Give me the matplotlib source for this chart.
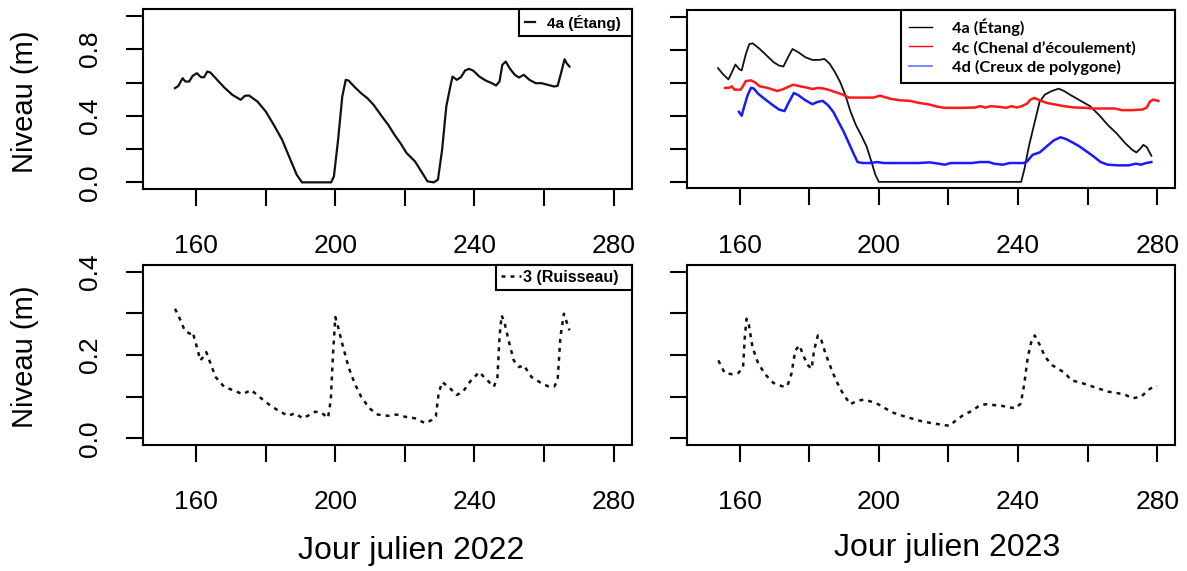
'''
Niveau d'eau des stations, 2022 et 2023
'''
import numpy as np
import matplotlib.pyplot as plt
from matplotlib import font_manager
from matplotlib.lines import Line2D

# station 4a (Etang), 2022
jour_4a_2022 = [153.9, 154.9, 156.1, 156.9, 158.0, 159.0, 160.2, 161.4, 162.3, 163.2,
                164.1, 165.6, 168.0, 170.4, 172.8, 174.0, 175.2, 177.6, 180.0, 182.3,
                184.7, 187.1, 188.9, 190.4, 198.8, 199.6, 200.8, 202.0, 203.0, 203.8,
                205.6, 207.4, 209.2, 211.0, 213.4, 215.2, 217.0, 218.7, 220.5, 222.9,
                224.7, 226.5, 228.3, 229.5, 230.7, 231.9, 233.1, 233.7, 234.9, 236.1,
                237.3, 238.4, 239.6, 241.4, 243.2, 245.0, 246.2, 247.2, 248.0, 249.0,
                250.1, 251.6, 252.8, 254.2, 255.8, 257.6, 259.3, 261.1, 262.9, 263.9,
                265.0, 265.9, 266.5, 267.3]
niv_4a_2022 = [0.566, 0.580, 0.626, 0.606, 0.606, 0.640, 0.656, 0.632, 0.632, 0.666,
               0.660, 0.626, 0.572, 0.526, 0.496, 0.520, 0.522, 0.486, 0.426, 0.346,
               0.256, 0.136, 0.046, 0.000, 0.000, 0.036, 0.256, 0.516, 0.616, 0.612,
               0.572, 0.536, 0.506, 0.466, 0.396, 0.346, 0.286, 0.236, 0.176, 0.126,
               0.066, 0.006, 0.000, 0.016, 0.196, 0.456, 0.580, 0.636, 0.616, 0.632,
               0.672, 0.682, 0.672, 0.636, 0.612, 0.596, 0.582, 0.606, 0.706, 0.726,
               0.686, 0.646, 0.630, 0.646, 0.616, 0.596, 0.596, 0.586, 0.576, 0.580,
               0.666, 0.740, 0.716, 0.696]

# station 4a (Etang), 2023
jour_4a_2023 = [153.8, 155.3, 156.8, 157.8, 158.8, 159.8, 160.6, 161.8, 162.8, 163.8,
                165.8, 167.8, 169.8, 171.3, 172.6, 173.9, 175.2, 176.9, 178.9, 180.9,
                182.9, 184.4, 185.9, 187.4, 188.9, 190.4, 191.9, 193.4, 194.9, 196.5,
                198.0, 199.0, 200.0, 240.9, 241.9, 243.1, 244.7, 246.2, 247.7, 249.7,
                251.7, 253.2, 255.2, 257.7, 260.7, 263.3, 265.8, 268.3, 270.8, 272.8,
                274.0, 275.0, 276.0, 277.0, 278.3]
niv_4a_2023 = [0.688, 0.650, 0.620, 0.664, 0.710, 0.684, 0.674, 0.774, 0.834, 0.838,
               0.804, 0.764, 0.724, 0.704, 0.698, 0.754, 0.804, 0.784, 0.754, 0.738,
               0.738, 0.744, 0.714, 0.664, 0.604, 0.524, 0.424, 0.344, 0.284, 0.214,
               0.114, 0.044, 0.000, 0.000, 0.084, 0.214, 0.354, 0.484, 0.528, 0.550,
               0.564, 0.550, 0.524, 0.494, 0.458, 0.404, 0.344, 0.294, 0.234, 0.194,
               0.178, 0.198, 0.224, 0.210, 0.158]

# station 4c (Chenal d'ecoulement), 2023
jour_4c_2023 = [155.8, 157.1, 157.8, 158.5, 160.3, 161.1, 161.8, 163.3, 164.3, 165.8,
                167.8, 169.3, 170.8, 172.4, 173.9, 175.4, 177.4, 179.4, 180.9, 182.4,
                183.9, 185.4, 187.4, 189.4, 191.4, 193.4, 196.5, 198.5, 200.3, 201.5,
                203.5, 206.0, 209.0, 211.5, 214.5, 217.0, 219.0, 221.6, 224.6, 227.6,
                229.1, 230.6, 232.1, 234.6, 236.6, 238.1, 239.6, 241.1, 242.6, 243.6,
                244.7, 246.2, 248.2, 250.7, 253.2, 256.2, 259.2, 261.7, 264.7, 267.8,
                269.8, 272.8, 275.8, 277.0, 277.8, 278.8, 280.3]
niv_4c_2023 = [0.568, 0.570, 0.578, 0.558, 0.558, 0.584, 0.610, 0.614, 0.604, 0.578,
               0.570, 0.560, 0.550, 0.560, 0.574, 0.588, 0.578, 0.570, 0.562, 0.568,
               0.566, 0.558, 0.544, 0.530, 0.510, 0.510, 0.510, 0.510, 0.522, 0.514,
               0.502, 0.494, 0.490, 0.478, 0.468, 0.454, 0.448, 0.448, 0.448, 0.450,
               0.458, 0.450, 0.458, 0.454, 0.448, 0.458, 0.450, 0.458, 0.474, 0.498,
               0.508, 0.494, 0.478, 0.468, 0.458, 0.450, 0.448, 0.444, 0.444, 0.444,
               0.434, 0.434, 0.438, 0.450, 0.484, 0.498, 0.490]

# station 4d (Creux de polygone), 2023
jour_4d_2023 = [159.8, 160.6, 161.3, 162.3, 163.3, 164.1, 165.3, 167.3, 169.3, 171.3,
                172.9, 174.2, 175.6, 176.9, 178.9, 180.9, 182.4, 183.9, 185.4, 186.9,
                188.4, 189.9, 191.4, 192.9, 193.9, 195.4, 197.5, 199.5, 201.5, 206.5,
                211.5, 214.5, 216.0, 219.0, 220.6, 223.6, 226.6, 229.1, 231.6, 233.1,
                235.6, 237.6, 241.6, 242.6, 244.2, 246.2, 248.2, 250.2, 252.2, 253.9,
                255.7, 257.7, 259.7, 261.7, 263.7, 265.8, 268.8, 271.8, 273.8, 275.3,
                276.8, 278.3]
niv_4d_2023 = [0.424, 0.400, 0.454, 0.524, 0.570, 0.564, 0.534, 0.500, 0.468, 0.438,
               0.428, 0.484, 0.538, 0.524, 0.494, 0.470, 0.484, 0.490, 0.464, 0.424,
               0.364, 0.304, 0.234, 0.164, 0.120, 0.114, 0.114, 0.120, 0.114, 0.114,
               0.114, 0.118, 0.114, 0.104, 0.114, 0.114, 0.114, 0.120, 0.120, 0.110,
               0.104, 0.114, 0.114, 0.124, 0.164, 0.178, 0.214, 0.250, 0.270, 0.258,
               0.238, 0.214, 0.184, 0.154, 0.120, 0.104, 0.100, 0.100, 0.110, 0.104,
               0.114, 0.120]

# station 3 (Ruisseau), 2022
jour_3_2022 = [153.9, 154.9, 156.7, 158.2, 159.0, 160.2, 161.2, 162.0, 162.9, 163.8,
               165.6, 168.0, 170.4, 173.4, 175.8, 178.1, 181.1, 184.1, 186.5, 188.3,
               190.7, 192.5, 194.3, 196.1, 197.9, 198.7, 199.4, 200.0, 200.8, 202.0,
               203.8, 205.6, 207.4, 209.8, 212.2, 215.2, 217.6, 219.9, 222.9, 225.9,
               227.7, 228.9, 229.7, 230.7, 232.5, 234.9, 236.7, 239.0, 241.4, 243.2,
               245.6, 246.6, 247.2, 247.8, 248.6, 249.8, 251.3, 252.8, 254.2, 256.4,
               258.7, 261.1, 262.9, 263.9, 264.7, 265.7, 266.5, 267.3]
niv_3_2022 = [0.311, 0.295, 0.259, 0.251, 0.255, 0.219, 0.187, 0.195, 0.207, 0.187,
              0.147, 0.124, 0.116, 0.106, 0.116, 0.100, 0.080, 0.064, 0.054, 0.060,
              0.048, 0.056, 0.064, 0.061, 0.049, 0.092, 0.211, 0.291, 0.267, 0.227,
              0.171, 0.131, 0.100, 0.072, 0.057, 0.054, 0.057, 0.052, 0.048, 0.036,
              0.044, 0.053, 0.108, 0.135, 0.124, 0.104, 0.112, 0.139, 0.159, 0.143,
              0.124, 0.147, 0.243, 0.295, 0.279, 0.235, 0.187, 0.171, 0.175, 0.147,
              0.135, 0.125, 0.124, 0.139, 0.243, 0.299, 0.279, 0.259]

# station 3 (Ruisseau), 2023
jour_3_2023 = [153.9, 155.7, 157.7, 159.7, 161.0, 161.5, 162.0, 162.7, 163.7, 165.2,
               167.2, 169.7, 172.2, 173.7, 174.9, 176.0, 177.2, 178.5, 179.7, 180.7,
               181.4, 182.5, 183.5, 184.7, 186.7, 188.8, 190.3, 191.8, 193.8, 195.8,
               197.8, 199.8, 201.8, 204.3, 206.8, 209.3, 211.8, 214.8, 217.8, 220.3,
               222.3, 224.3, 226.8, 228.8, 230.8, 232.8, 235.3, 237.8, 239.3, 240.8,
               241.8, 242.8, 243.8, 244.8, 246.3, 247.8, 249.9, 251.9, 253.4, 255.4,
               257.9, 260.4, 262.9, 265.9, 268.9, 270.9, 272.9, 275.4, 277.4, 278.9,
               279.9]
niv_3_2023 = [0.187, 0.157, 0.154, 0.157, 0.171, 0.243, 0.287, 0.271, 0.219, 0.183,
              0.155, 0.133, 0.125, 0.125, 0.155, 0.211, 0.223, 0.195, 0.175, 0.167,
              0.211, 0.247, 0.235, 0.203, 0.159, 0.120, 0.100, 0.082, 0.090, 0.093,
              0.088, 0.082, 0.072, 0.061, 0.054, 0.048, 0.042, 0.037, 0.033, 0.030,
              0.044, 0.056, 0.066, 0.078, 0.082, 0.080, 0.078, 0.074, 0.072, 0.084,
              0.131, 0.195, 0.231, 0.247, 0.223, 0.195, 0.175, 0.165, 0.157, 0.139,
              0.134, 0.127, 0.120, 0.112, 0.108, 0.104, 0.096, 0.100, 0.116, 0.124,
              0.125]

x_ticks = [160, 180, 200, 220, 240, 260, 280]
x_ticklabels = ['160', '', '200', '', '240', '', '280']
y_ticks_haut = [0.0, 0.2, 0.4, 0.6, 0.8, 1.0]
y_ticklabels_haut = ['0.0', '', '0.4', '', '0.8', '']
y_ticks_bas = [0.0, 0.1, 0.2, 0.3, 0.4]
y_ticklabels_bas = ['0.0', '', '0.2', '', '0.4']

# fonts
plt.rcParams['font.family'] = 'Liberation Sans'

DOTTED = (0, (1.6, 2.0))


def style_axes(ax, ylim, yticks, yticklabels):
    '''
    R-like axes: boxed, outward ticks, vertical y labels
    '''
    ax.set_xlim(144.8, 285.2)
    ax.set_ylim(*ylim)
    ax.set_xticks(x_ticks)
    ax.set_xticklabels(x_ticklabels)
    ax.set_yticks(yticks)
    ax.set_yticklabels(yticklabels, rotation=90, va='center')
    ax.tick_params(direction='out', length=12.5, width=1.5, labelsize=19)
    ax.tick_params(axis='x', pad=20)
    ax.tick_params(axis='y', pad=17)
    for s in ax.spines.values():
        s.set_linewidth(1.5)


def small_key(ax, handles, labels, x0, h, **kw):
    leg = ax.legend(handles, labels, loc='upper left', bbox_to_anchor=(x0, 1 - h, 1 - x0, h),
                    mode='expand', borderaxespad=0, fancybox=False, framealpha=1,
                    edgecolor='black', **kw)
    leg.get_frame().set_linewidth(1.5)
    return leg


def set_ylabel_r(ax, y):
    ax.set_ylabel('Niveau (m)', fontsize=21, va='center')
    ax.yaxis.set_label_coords(-0.242, y)


fig = plt.figure(figsize=(11.87, 5.71), dpi=100)
ax_tl = fig.add_axes([0.1207, 0.669, 0.4115, 0.3147])
ax_tr = fig.add_axes([0.5785, 0.6699, 0.4117, 0.3126])
ax_bl = fig.add_axes([0.1207, 0.2207, 0.4115, 0.3152])
ax_br = fig.add_axes([0.5785, 0.2207, 0.4117, 0.3152])

# top left: 4a 2022
l_tl, = ax_tl.plot(jour_4a_2022, niv_4a_2022, color='#111111', lw=1.6)
style_axes(ax_tl, (-0.04, 1.04), y_ticks_haut, y_ticklabels_haut)
set_ylabel_r(ax_tl, 0.487)
small_key(ax_tl, [l_tl], ['4a (Étang)'], 0.77, 0.16,
          prop={'weight': 'bold', 'size': 11},
          borderpad=0.35, handlelength=0.7, handletextpad=0.75)

# top right: 4a, 4c, 4d 2023
ax_tr.plot(jour_4a_2023, niv_4a_2023, color='#111111', lw=1.3)
ax_tr.plot(jour_4c_2023, niv_4c_2023, color='#ff1a1a', lw=1.8)
ax_tr.plot(jour_4d_2023, niv_4d_2023, color='#1a1aff', lw=1.8)
style_axes(ax_tr, (-0.04, 1.04), y_ticks_haut, [''] * len(y_ticks_haut))
key_handles = [Line2D([], [], color='black', lw=1),
               Line2D([], [], color='red', lw=1),
               Line2D([], [], color='#5b7cff', lw=1.2)]
small_key(ax_tr, key_handles,
          ['4a (Étang)', '4c (Chenal d\u2019écoulement)', '4d (Creux de polygone)'],
          0.438, 0.42,
          prop={'family': 'Lato', 'weight': 'bold', 'size': 11.8},
          borderpad=0.5, labelspacing=0.3, handlelength=1.4, handletextpad=1.2)

# bottom left: 3 2022
l_bl, = ax_bl.plot(jour_3_2022, niv_3_2022, color='#111111', lw=1.8, linestyle=DOTTED)
style_axes(ax_bl, (-0.016, 0.416), y_ticks_bas, y_ticklabels_bas)
set_ylabel_r(ax_bl, 0.49)
ax_bl.set_xlabel('Jour julien 2022', fontsize=23)
ax_bl.xaxis.set_label_coords(0.548, -0.589)
ax_bl.xaxis.label.set_va('center')
small_key(ax_bl, [l_bl], ['3 (Ruisseau)'], 0.722, 0.15,
          prop={'weight': 'bold', 'size': 11.5},
          borderpad=0.3, handlelength=1.3, handletextpad=0.1)

# bottom right: 3 2023
ax_br.plot(jour_3_2023, niv_3_2023, color='#111111', lw=1.8, linestyle=DOTTED)
style_axes(ax_br, (-0.016, 0.416), y_ticks_bas, [''] * len(y_ticks_bas))
ax_br.set_xlabel('Jour julien 2023', fontsize=23)
ax_br.xaxis.set_label_coords(0.533, -0.572)
ax_br.xaxis.label.set_va('center')

fig.savefig('out.png', dpi=100)
